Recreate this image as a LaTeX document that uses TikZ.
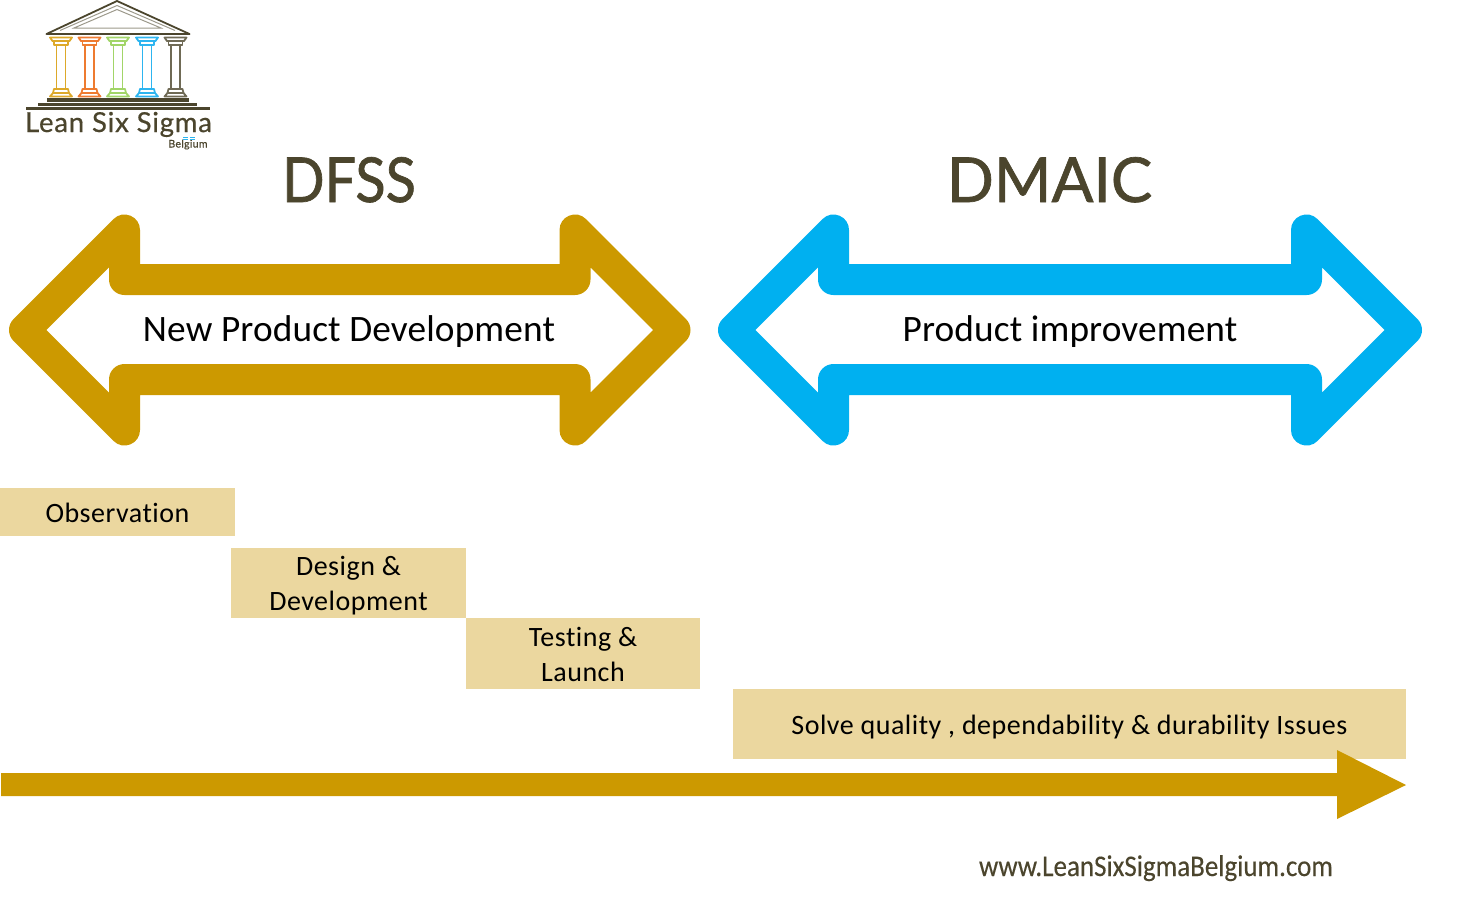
\documentclass[tikz,border=0pt]{standalone}
\usepackage{fontspec}
\setmainfont[RawFeature={-liga}]{Carlito}
\newfontfamily\titlefont[FakeBold=1.1]{Lato}
\newfontfamily\narrowtitlefont[FakeBold=1.1,FakeStretch=0.9]{Lato}
\newfontfamily\brandfont[FakeBold=0.6,LetterSpace=3]{Lato}
\newfontfamily\webfont[FakeStretch=0.9,FakeBold=0.25]{Carlito}
\newfontfamily\bandfont[RawFeature={-liga},LetterSpace=1.8]{Carlito}
\newfontfamily\labelfont[RawFeature={-liga},LetterSpace=0.4]{Carlito}
\definecolor{gold}{HTML}{CC9900}
\definecolor{sky}{HTML}{00B0F0}
\definecolor{sand}{HTML}{EBD79F}
\definecolor{umber}{HTML}{4B452D}
\definecolor{colA}{HTML}{DDA92A}
\definecolor{colB}{HTML}{EE7B30}
\definecolor{colC}{HTML}{A2D568}
\definecolor{colD}{HTML}{2DB5F0}
\definecolor{colE}{HTML}{6F6A55}
\tikzset{
  outline/.style={line width=31pt,line join=round,line cap=round},
  band/.style={fill=sand,draw=none,inner sep=0pt,align=center,font=\bandfont\fontsize{28}{35}\selectfont,anchor=center},
  headline/.style={text=umber,font=\fontsize{62}{70}\selectfont,inner sep=0pt},
  inlabel/.style={text=black,font=\labelfont\fontsize{37.3}{40}\selectfont,inner sep=0pt},
}
% a line of band text set lower than its box without changing the box
\newcommand{\lowered}[2]{\raisebox{-#1pt}[\height][\depth]{#2}}
% one temple column, capital at the top and plinth at the bottom
\newcommand{\templecolumn}[2]{%
  \begin{scope}[shift={(#1,0)},draw=#2,line width=1.8pt,line join=round]
    \draw (-11,37.5) -- (11,37.5) -- (8.5,41) -- (-8.5,41) -- cycle;
    \draw (-7,41) -- (-7,45) -- (7,45) -- (7,41);
    \draw (-4.5,45) -- (-4.5,89) (4.5,45) -- (4.5,89);
    \draw (-7,89) -- (7,89) -- (8,93) -- (-8,93) -- cycle;
    \draw (-8,93) -- (-11,96.5) -- (11,96.5) -- (8,93);
  \end{scope}}
\begin{document}
\begin{tikzpicture}[x=1pt,y=-1pt]
\useasboundingbox (0,0) rectangle (1476,903);

% temple emblem
\draw[umber,line width=1.8pt,line join=round] (46.5,34) -- (117,1) -- (189.5,34) -- cycle;
\draw[umber!55,line width=1pt] (60,30.5) -- (117,5.5) -- (175,30.5);
\draw[umber!55,line width=1pt] (74,28) -- (117,9.5) -- (161,28) -- cycle;
\draw[umber,line width=2.4pt] (46.5,33.7) -- (189.5,33.7);
\templecolumn{61}{colA}
\templecolumn{89.5}{colB}
\templecolumn{118}{colC}
\templecolumn{147}{colD}
\templecolumn{175.5}{colE}
\fill[umber] (47,98) rectangle (189,101.5);
\fill[umber] (38,103) rectangle (197,105.5);
\fill[umber] (26,107) rectangle (210,110);
\node[text=umber,font=\brandfont\fontsize{27.5}{30}\selectfont,inner sep=0pt,anchor=base] (brand) at (118.5,132) {Lean Six Sigma};
\node[text=umber,font=\brandfont\fontsize{10.5}{12}\selectfont,inner sep=0pt,anchor=base] (brandsub) at (188,147.5) {Belgium};
\draw[colD,line width=.7pt] (183,137.5) -- (188,137.5) (190,137.5) -- (195,137.5) (183,139) -- (188,139) (190,139) -- (195,139);

% section titles
\node[headline,anchor=base,font=\narrowtitlefont\fontsize{62}{70}\selectfont] (dfss) at (349,202) {DFSS};
\node[headline,anchor=base,font=\titlefont\fontsize{62}{70}\selectfont] (dmaic) at (1049.5,202) {DMAIC};

% double-headed outline arrows
\draw[outline,gold] (24.5,330) -- (124.5,230) -- (124.5,279.5) -- (575,279.5) -- (575,230) -- (675,330)
  -- (575,430) -- (575,379.5) -- (124.5,379.5) -- (124.5,430) -- cycle;
\draw[outline,sky] (733.5,330) -- (833.5,230) -- (833.5,279.5) -- (1306.5,279.5) -- (1306.5,230) -- (1406.5,330)
  -- (1306.5,430) -- (1306.5,379.5) -- (833.5,379.5) -- (833.5,430) -- cycle;
\node[inlabel] (npd) at (349,332) {New Product Development};
\node[inlabel] (imp) at (1070,332) {Product improvement};

% phase bands
\node[band,minimum width=235pt,minimum height=48pt] (obs) at (117.5,512) {\lowered{1}{Observation}};
\node[band,minimum width=235pt,minimum height=70pt] (des) at (348.5,583) {\lowered{3}{Design \&}\\\lowered{3}{Development}};
\node[band,minimum width=234pt,minimum height=71pt] (tes) at (583,653.5) {\lowered{1}{Testing \&}\\\lowered{1}{Launch}};
\node[band,minimum width=673pt,minimum height=70pt] (sol) at (1069.5,724) {\lowered{3}{Solve quality , dependability \& durability Issues}};

% timeline arrow
\fill[gold] (1,773) -- (1337,773) -- (1337,750) -- (1406,785) -- (1337,819) -- (1337,796) -- (1,796) -- cycle;

% web address
\node[text=umber,font=\webfont\fontsize{30}{30}\selectfont,inner sep=0pt,anchor=base] (web) at (1156,876) {www.LeanSixSigmaBelgium.com};
\end{tikzpicture}
\end{document}
